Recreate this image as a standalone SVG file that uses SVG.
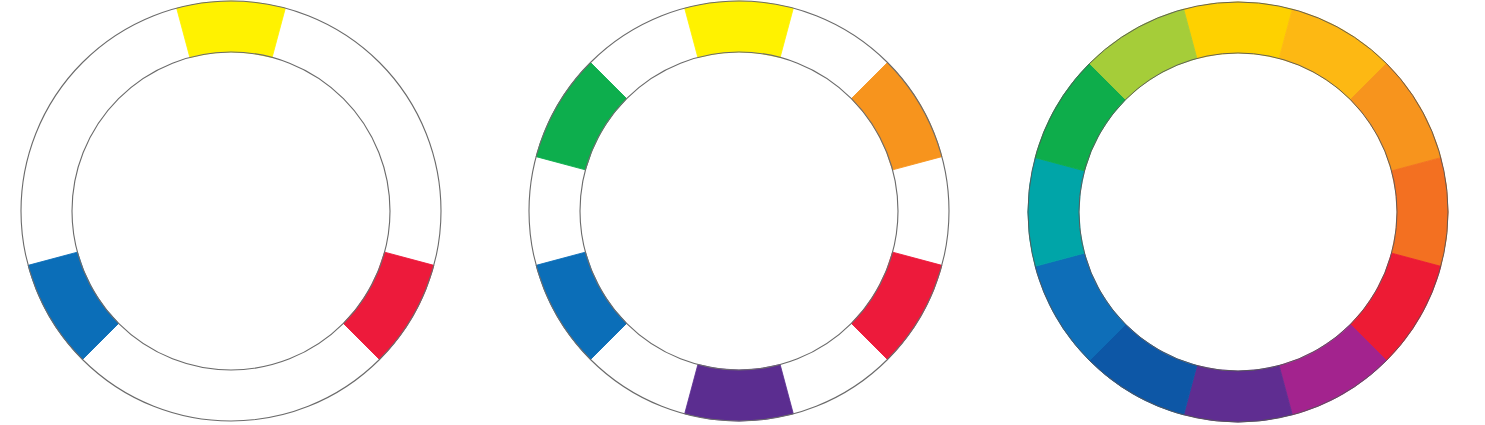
<svg xmlns="http://www.w3.org/2000/svg" xmlns:xlink="http://www.w3.org/1999/xlink" width="1485" height="425" viewBox="0 0 1485 425">
<style>
.ring{fill:none;stroke:#6b6b6b;stroke-width:1.1}
.ring3{fill:none;stroke:#555;stroke-width:0.9}
.seg{stroke-width:0.8}
</style>
<defs>
<path id="sector" d="M -54.35 -202.84 A 210 210 0 0 1 54.35 -202.84 L 41.15 -153.58 A 159 159 0 0 0 -41.15 -153.58 Z"/>
</defs>
<rect width="1485" height="425" fill="#ffffff"/>
<g id="wheel1" transform="translate(231 211)">
<use href="#sector" class="seg" fill="#FFF200" stroke="#FFF200" transform="rotate(0)"/>
<use href="#sector" class="seg" fill="#ED1A3B" stroke="#ED1A3B" transform="rotate(120)"/>
<use href="#sector" class="seg" fill="#0B6EB8" stroke="#0B6EB8" transform="rotate(240)"/>
<circle class="ring" r="210"/>
<circle class="ring" r="159"/>
</g>
<g id="wheel2" transform="translate(739 211)">
<use href="#sector" class="seg" fill="#FFF200" stroke="#FFF200" transform="rotate(0)"/>
<use href="#sector" class="seg" fill="#F7941D" stroke="#F7941D" transform="rotate(60)"/>
<use href="#sector" class="seg" fill="#ED1A3B" stroke="#ED1A3B" transform="rotate(120)"/>
<use href="#sector" class="seg" fill="#5B2D90" stroke="#5B2D90" transform="rotate(180)"/>
<use href="#sector" class="seg" fill="#0B6EB8" stroke="#0B6EB8" transform="rotate(240)"/>
<use href="#sector" class="seg" fill="#0DAE4D" stroke="#0DAE4D" transform="rotate(300)"/>
<circle class="ring" r="210"/>
<circle class="ring" r="159"/>
</g>
<g id="wheel3" transform="translate(1238 212)">
<use href="#sector" class="seg" fill="#FED100" stroke="#FED100" transform="rotate(0)"/>
<use href="#sector" class="seg" fill="#FDB813" stroke="#FDB813" transform="rotate(30)"/>
<use href="#sector" class="seg" fill="#F7941D" stroke="#F7941D" transform="rotate(60)"/>
<use href="#sector" class="seg" fill="#F37021" stroke="#F37021" transform="rotate(90)"/>
<use href="#sector" class="seg" fill="#ED1B34" stroke="#ED1B34" transform="rotate(120)"/>
<use href="#sector" class="seg" fill="#A3238E" stroke="#A3238E" transform="rotate(150)"/>
<use href="#sector" class="seg" fill="#5F2D91" stroke="#5F2D91" transform="rotate(180)"/>
<use href="#sector" class="seg" fill="#0D57A6" stroke="#0D57A6" transform="rotate(210)"/>
<use href="#sector" class="seg" fill="#0E6EB8" stroke="#0E6EB8" transform="rotate(240)"/>
<use href="#sector" class="seg" fill="#00A5A8" stroke="#00A5A8" transform="rotate(270)"/>
<use href="#sector" class="seg" fill="#0EAD4B" stroke="#0EAD4B" transform="rotate(300)"/>
<use href="#sector" class="seg" fill="#A5CD39" stroke="#A5CD39" transform="rotate(330)"/>
<circle class="ring3" r="210"/>
<circle class="ring3" r="159"/>
</g>
</svg>
